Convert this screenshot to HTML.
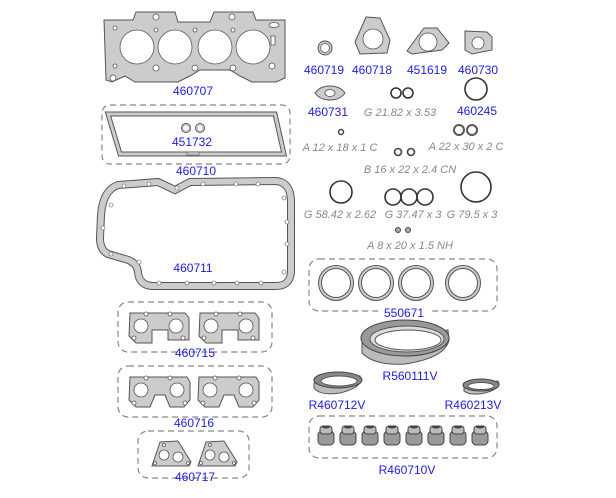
<!DOCTYPE html>
<html><head><meta charset="utf-8"><style>
html,body{margin:0;padding:0;background:#fff;}
svg{display:block;}
.b{font-family:"Liberation Sans",sans-serif;font-size:12px;fill:#1a1aff;text-anchor:middle;}
.g{font-family:"Liberation Sans",sans-serif;font-size:11px;font-style:italic;fill:#888;text-anchor:middle;}
.box{fill:none;stroke:#888;stroke-width:1.2;stroke-dasharray:6,4;}
.gs{fill:#ccc;stroke:#555;stroke-width:1;}
.h{fill:#fff;stroke:#555;stroke-width:0.8;}
.r{fill:none;stroke:#333;stroke-width:1.6;}
</style></head><body>
<svg width="616" height="498" viewBox="0 0 616 498" xmlns="http://www.w3.org/2000/svg">
<!-- head gasket -->
<path class="gs" d="M104,20 L133,20 L136,12 L175,12 L178,22 L210,22 L214,12 L253,12 L256,20 L285,20 L285,78 L276,82 L252,82 L240,76 L230,70 L200,70 L190,76 L178,82 L135,82 L125,76 L112,82 L106,80 Z"/>
<g class="h"><circle cx="137" cy="47" r="17"/><circle cx="175" cy="47" r="17"/><circle cx="215" cy="47" r="17"/><circle cx="253" cy="47" r="17"/>
<circle cx="156" cy="17" r="3"/><circle cx="232" cy="17" r="3"/><circle cx="115" cy="28" r="2"/><circle cx="156" cy="30" r="2"/><circle cx="195" cy="30" r="2"/><circle cx="233" cy="30" r="2"/><circle cx="115" cy="66" r="2"/><circle cx="156" cy="68" r="3"/><circle cx="195" cy="68" r="3"/><circle cx="233" cy="68" r="3"/><circle cx="272" cy="66" r="3"/><circle cx="113" cy="78" r="3"/><rect x="271" y="36" width="4" height="9"/><ellipse cx="274" cy="25" rx="5" ry="2.5"/></g>
<text class="b" x="193" y="95">460707</text>
<!-- valve cover -->
<rect class="box" x="102" y="105" width="188" height="59" rx="8"/>
<path d="M108,114 L275,114 L284,154 L120,154 Z" fill="none" stroke="#555" stroke-width="5"/>
<path d="M108,114 L275,114 L284,154 L120,154 Z" fill="none" stroke="#ccc" stroke-width="3"/>
<rect x="187" y="152" width="12" height="3" fill="#ccc" stroke="#555" stroke-width="0.6"/>
<circle cx="186" cy="128" r="4.5" fill="#ccc" stroke="#555"/><circle cx="200" cy="128" r="4.5" fill="#ccc" stroke="#555"/>
<circle cx="186" cy="128" r="2.5" fill="#fff"/><circle cx="200" cy="128" r="2.5" fill="#fff"/>
<text class="b" x="192" y="146">451732</text>
<text class="b" x="196" y="175">460710</text>
<!-- oil pan -->
<path d="M118,185 L158,182 L175,190 L190,182 L276,181 Q290,182 291,200 L291,272 Q290,286 276,286 L152,286 Q139,285 138,272 Q137,262 125,259 L108,254 Q100,250 100,238 L101,215 Q103,190 118,185 Z" fill="none" stroke="#555" stroke-width="8"/>
<path d="M118,185 L158,182 L175,190 L190,182 L276,181 Q290,182 291,200 L291,272 Q290,286 276,286 L152,286 Q139,285 138,272 Q137,262 125,259 L108,254 Q100,250 100,238 L101,215 Q103,190 118,185 Z" fill="none" stroke="#ccc" stroke-width="6"/>
<g fill="#fff" stroke="#555" stroke-width="0.6"><circle cx="124" cy="186" r="2"/><circle cx="149" cy="184" r="2"/><circle cx="177" cy="188" r="2"/><circle cx="203" cy="184" r="2"/><circle cx="236" cy="184" r="2"/><circle cx="258" cy="184" r="2"/><circle cx="284" cy="198" r="2"/><circle cx="287" cy="222" r="2"/><circle cx="287" cy="244" r="2"/><circle cx="284" cy="272" r="2"/><circle cx="261" cy="283" r="2"/><circle cx="237" cy="283" r="2"/><circle cx="214" cy="283" r="2"/><circle cx="187" cy="283" r="2"/><circle cx="159" cy="283" r="2"/><circle cx="139" cy="262" r="2"/><circle cx="111" cy="254" r="2"/><circle cx="103" cy="228" r="2"/><circle cx="111" cy="205" r="2"/></g>
<text class="b" x="193" y="272">460711</text>
<!-- 460715 -->
<rect class="box" x="118" y="302" width="154" height="50" rx="10"/>
<g id="m1"><path class="gs" d="M130,313 L185,313 L189,318 L189,340 L168,340 L168,330 L152,330 L152,343 L136,343 L129,336 Z"/>
<circle class="h" cx="141" cy="326" r="7"/><circle class="h" cx="176" cy="326" r="7"/><circle class="h" cx="146" cy="314" r="2"/><circle class="h" cx="170" cy="314" r="2"/><circle class="h" cx="134" cy="338" r="2"/><circle class="h" cx="183" cy="338" r="2"/></g>
<use href="#m1" x="70"/>
<text class="b" x="195" y="357">460715</text>
<!-- 460716 -->
<rect class="box" x="118" y="366" width="154" height="51" rx="10"/>
<g id="m2"><path class="gs" d="M130,377 L187,377 L190,382 L190,400 L184,407 L170,407 L165,395 L155,395 L150,407 L136,407 L129,400 Z"/>
<circle class="h" cx="141" cy="390" r="7"/><circle class="h" cx="177" cy="390" r="7"/><circle class="h" cx="146" cy="378" r="2"/><circle class="h" cx="170" cy="378" r="2"/><circle class="h" cx="134" cy="403" r="2"/><circle class="h" cx="185" cy="403" r="2"/></g>
<use href="#m2" x="69"/>
<text class="b" x="194" y="427">460716</text>
<!-- 460717 -->
<rect class="box" x="138" y="431" width="111" height="47" rx="10"/>
<g id="m3"><path class="gs" d="M160,442 L178,441 L191,462 L189,466 L152,466 Z"/>
<circle class="h" cx="164" cy="455" r="5"/><circle class="h" cx="178" cy="457" r="5"/><circle class="h" cx="164" cy="445" r="1.5"/><circle class="h" cx="155" cy="463" r="1.5"/><circle class="h" cx="188" cy="463" r="1.5"/></g>
<use href="#m3" x="46"/>
<text class="b" x="195" y="481">460717</text>
<!-- top right parts -->
<circle cx="325" cy="48" r="7" fill="#ccc" stroke="#555"/><circle cx="325" cy="48" r="4.5" fill="#fff" stroke="#555" stroke-width="0.7"/>
<path class="gs" d="M366,17 L380,18 L390,40 L387,53 L360,54 L355,42 Z"/><circle class="h" cx="373" cy="39" r="10"/>
<path class="gs" d="M424,28 L437,28 L449,43 L442,50 L412,54 L407,51 Z"/><circle class="h" cx="428" cy="42" r="9"/>
<path class="gs" d="M465,31 L487,32 L492,37 L492,50 L472,54 L465,50 Z"/><circle class="h" cx="478" cy="43" r="6"/>
<text class="b" x="324" y="74">460719</text><text class="b" x="372" y="74">460718</text><text class="b" x="427" y="74">451619</text><text class="b" x="478" y="74">460730</text>
<path class="gs" d="M315,93 Q320,86 330,86 Q340,86 345,93 Q340,100 330,100 Q320,100 315,93 Z"/><ellipse class="h" cx="330" cy="93" rx="5" ry="3.5"/>
<text class="b" x="328" y="116">460731</text>
<circle class="r" cx="396" cy="93" r="5"/><circle class="r" cx="408" cy="93" r="5"/>
<text class="g" x="400" y="116">G 21.82 x 3.53</text>
<circle class="r" cx="476" cy="89" r="11"/>
<text class="b" x="477" y="115">460245</text>
<circle cx="341" cy="132" r="2.5" fill="none" stroke="#444" stroke-width="1.5"/>
<text class="g" x="340" y="151">A 12 x 18 x 1 C</text>
<circle cx="459" cy="130" r="5" fill="none" stroke="#555" stroke-width="2"/><circle cx="472" cy="130" r="5" fill="none" stroke="#555" stroke-width="2"/>
<text class="g" x="466" y="150">A 22 x 30 x 2 C</text>
<circle cx="398" cy="152" r="3.5" fill="none" stroke="#444" stroke-width="1.6"/><circle cx="411" cy="152" r="3.5" fill="none" stroke="#444" stroke-width="1.6"/>
<text class="g" x="410" y="173">B 16 x 22 x 2.4 CN</text>
<circle class="r" cx="341" cy="192" r="11"/>
<circle class="r" cx="393" cy="197" r="8"/><circle class="r" cx="409" cy="197" r="8"/><circle class="r" cx="425" cy="197" r="8"/>
<circle class="r" cx="476" cy="187" r="15"/>
<text class="g" x="340" y="218">G 58.42 x 2.62</text><text class="g" x="413" y="218">G 37.47 x 3</text><text class="g" x="472" y="218">G 79.5 x 3</text>
<circle cx="398" cy="230" r="2.5" fill="#aaa" stroke="#444"/><circle cx="408" cy="230" r="2.5" fill="#aaa" stroke="#444"/>
<text class="g" x="410" y="249">A 8 x 20 x 1.5 NH</text>
<!-- 550671 -->
<rect class="box" x="309" y="259" width="188" height="52" rx="10"/>
<g fill="none" stroke="#555" stroke-width="4"><circle cx="336" cy="283" r="16"/><circle cx="376" cy="283" r="16"/><circle cx="416" cy="283" r="16"/><circle cx="463" cy="283" r="16"/></g>
<g fill="none" stroke="#ccc" stroke-width="2"><circle cx="336" cy="283" r="16"/><circle cx="376" cy="283" r="16"/><circle cx="416" cy="283" r="16"/><circle cx="463" cy="283" r="16"/></g>
<rect x="380" y="305" width="50" height="12" fill="#fff"/>
<text class="b" x="404" y="317">550671</text>
<!-- seals -->
<path d="M362,343 L362,353 Q375,366 405,364 Q445,358 449,340 L448,330 Z" fill="#bbb" stroke="#555"/>
<ellipse cx="405" cy="338" rx="44" ry="18" fill="#999" stroke="#444"/>
<ellipse cx="407" cy="339" rx="37" ry="13" fill="#ddd" stroke="#555"/>
<ellipse cx="408" cy="340" rx="33" ry="10" fill="#fff" stroke="#555"/>
<text class="b" x="410" y="380">R560111V</text>
<path d="M314,383 L314,388 Q320,396 340,393 Q360,388 361,380 L360,376 Z" fill="#bbb" stroke="#555"/>
<ellipse cx="338" cy="380" rx="24" ry="8" fill="#888" stroke="#444"/><ellipse cx="339" cy="381" rx="18" ry="5" fill="#fff" stroke="#555"/>
<text class="b" x="337" y="409">R460712V</text>
<path d="M464,387 L464,391 Q470,396 485,393 Q499,389 499,384 L498,381 Z" fill="#bbb" stroke="#555"/>
<ellipse cx="481" cy="385" rx="18" ry="6" fill="#888" stroke="#444"/><ellipse cx="481" cy="386" rx="13" ry="3.5" fill="#fff" stroke="#555"/>
<text class="b" x="473" y="409">R460213V</text>
<rect class="box" x="309" y="416" width="188" height="42" rx="10"/>
<g id="st"><rect x="318" y="431" width="16" height="14" rx="4" fill="#999" stroke="#444"/><rect x="320" y="426" width="12" height="8" rx="3" fill="#bbb" stroke="#444"/><ellipse cx="326" cy="427" rx="4" ry="1.5" fill="#444"/></g>
<use href="#st" x="22"/><use href="#st" x="44"/><use href="#st" x="66"/><use href="#st" x="88"/><use href="#st" x="110"/><use href="#st" x="132"/><use href="#st" x="154"/>
<text class="b" x="407" y="474">R460710V</text>
</svg>
</body></html>
